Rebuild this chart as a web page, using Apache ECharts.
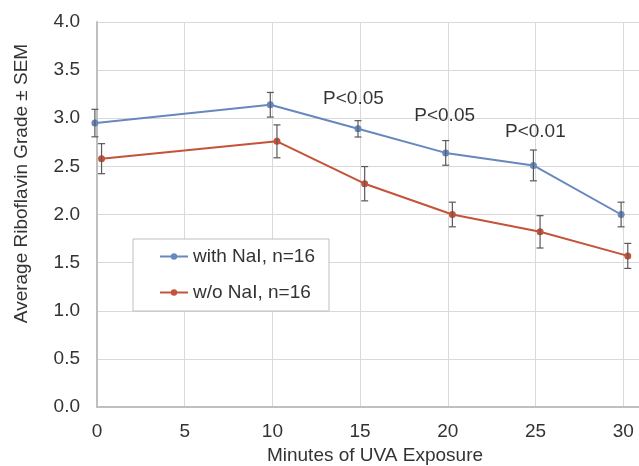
<!DOCTYPE html>
<html>
<head>
<meta charset="utf-8">
<script src="https://cdn.jsdelivr.net/npm/echarts@6/dist/echarts.min.js"></script>
<style>
  html, body { margin: 0; padding: 0; background: #fff; }
  #chart { width: 639px; height: 466px; }
</style>
</head>
<body>
<div id="chart"></div>
<script>
// minutes of UVA exposure; the two series are drawn slightly apart in the original
const minutesWith = [-0.12, 9.88, 14.88, 19.88, 24.88, 29.88];
const minutesWithout = [0.26, 10.26, 15.26, 20.26, 25.26, 30.26];

const withNaI = [2.95, 3.14, 2.89, 2.64, 2.51, 2.00];
const withNaISem = [0.143, 0.128, 0.085, 0.128, 0.16, 0.128];

const withoutNaI = [2.58, 2.76, 2.32, 2.00, 1.82, 1.57];
const withoutNaISem = [0.156, 0.171, 0.178, 0.128, 0.168, 0.13];

// p-value notes: [x, y, text]
const pNotes = [
  [14.62, 3.20, 'P<0.05'],
  [19.82, 3.03, 'P<0.05'],
  [24.99, 2.86, 'P<0.01']
];

const blue = '#6787BF';
const red = '#C4533A';
const font = 'Liberation Sans, Arial, sans-serif';
const textColor = '#333';

const pairs = (xs, ys) => xs.map((x, i) => [x, ys[i]]);
const errRows = (xs, ys, sem) => xs.map((x, i) => [x, ys[i] - sem[i], ys[i] + sem[i]]);

// whiskers with caps, drawn through the axes
const errorBars = (params, api) => {
  const lo = api.coord([api.value(0), api.value(1)]);
  const hi = api.coord([api.value(0), api.value(2)]);
  const cap = 3.5;
  const style = { stroke: '#595959', lineWidth: 1.2 };
  return {
    type: 'group',
    children: [
      { type: 'line', shape: { x1: lo[0], y1: lo[1], x2: hi[0], y2: hi[1] }, style },
      { type: 'line', shape: { x1: lo[0] - cap, y1: lo[1], x2: lo[0] + cap, y2: lo[1] }, style },
      { type: 'line', shape: { x1: hi[0] - cap, y1: hi[1], x2: hi[0] + cap, y2: hi[1] }, style }
    ]
  };
};

const chart = echarts.init(document.getElementById('chart'));

const option = {
  animation: false,
  textStyle: { fontFamily: font },
  grid: { left: 97, right: 0, top: 22, bottom: 59, containLabel: false, outerBoundsMode: 'none' },
  xAxis: {
    type: 'value',
    min: 0,
    max: 30.9,
    interval: 5,
    name: 'Minutes of UVA Exposure',
    nameLocation: 'middle',
    nameGap: 37,
    nameTextStyle: { fontSize: 19, color: textColor, fontFamily: font, padding: [0, 0, 0, 14] },
    axisLine: { lineStyle: { color: '#bfbfbf', width: 2 } },
    axisTick: { show: false },
    axisLabel: {
      fontSize: 19, color: textColor, margin: 15,
      formatter: v => (v % 5 === 0 ? String(v) : '')
    },
    splitLine: { lineStyle: { color: '#d9d9d9' } }
  },
  yAxis: {
    type: 'value',
    min: 0,
    max: 4,
    interval: 0.5,
    name: 'Average Riboflavin Grade ± SEM',
    nameLocation: 'middle',
    nameGap: 66,
    nameTextStyle: { fontSize: 19, color: textColor, fontFamily: font, padding: [0, 0, 0, 62] },
    axisLine: { show: true, lineStyle: { color: '#bfbfbf', width: 2 } },
    axisTick: { show: false },
    axisLabel: { fontSize: 19, color: textColor, margin: 17, formatter: v => v.toFixed(1) },
    splitLine: { lineStyle: { color: '#d9d9d9' } }
  },
  legend: {
    orient: 'vertical',
    left: 133,
    top: 239,
    padding: [8, 14, 9, 26],
    itemGap: 17,
    itemWidth: 28,
    itemHeight: 8,
    backgroundColor: '#fff',
    borderColor: '#bfbfbf',
    borderWidth: 1,
    textStyle: { fontSize: 19, color: textColor, fontFamily: font },
    data: ['with NaI, n=16', 'w/o NaI, n=16']
  },
  series: [
    {
      name: 'with NaI, n=16',
      type: 'line',
      data: pairs(minutesWith, withNaI),
      symbol: 'circle',
      symbolSize: 7,
      color: blue,
      lineStyle: { width: 2, color: blue },
      clip: false,
      z: 3
    },
    {
      name: 'w/o NaI, n=16',
      type: 'line',
      data: pairs(minutesWithout, withoutNaI),
      symbol: 'circle',
      symbolSize: 7,
      color: red,
      lineStyle: { width: 2, color: red },
      clip: false,
      z: 3
    },
    {
      type: 'custom',
      renderItem: errorBars,
      data: errRows(minutesWith, withNaI, withNaISem),
      encode: { x: 0, y: [1, 2] },
      clip: false,
      z: 4,
      silent: true
    },
    {
      type: 'custom',
      renderItem: errorBars,
      data: errRows(minutesWithout, withoutNaI, withoutNaISem),
      encode: { x: 0, y: [1, 2] },
      clip: false,
      z: 4,
      silent: true
    },
    {
      type: 'scatter',
      symbolSize: 0,
      data: pNotes.map(p => ({ value: [p[0], p[1]], label: { formatter: p[2] } })),
      label: {
        show: true,
        position: 'inside',
        fontSize: 19,
        color: '#000',
        fontFamily: font
      },
      silent: true
    }
  ]
};

chart.setOption(option);
</script>
</body>
</html>
